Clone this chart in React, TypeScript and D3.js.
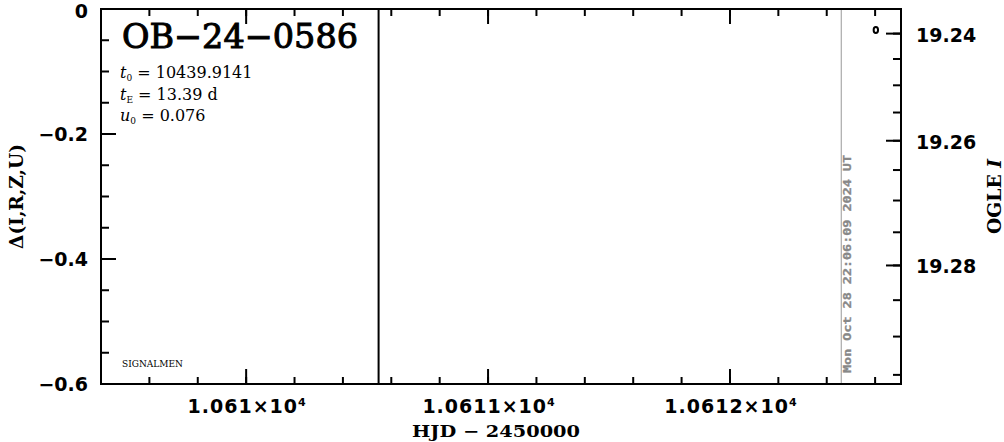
import React from "react";
import * as d3 from "d3";

// ---- data ----
const eventName = "OB-24-0586";
const paramNames = ["t", "t", "u"];
const paramSubs = ["0", "E", "0"];
const paramValues = ["10439.9141", "13.39 d", "0.076"];

const xMajorTicks = [10610, 10611, 10612];
const xTickMantissa = ["1.061", "1.0611", "1.0612"];
const deltaMajorTicks = [0, -0.2, -0.4, -0.6];
const deltaTickLabels = ["0", "\u22120.2", "\u22120.4", "\u22120.6"];
const magMajorTicks = [19.24, 19.26, 19.28];
const magTickLabels = ["19.24", "19.26", "19.28"];
const magMinorTicks = [19.24, 19.245, 19.25, 19.255, 19.26, 19.265, 19.27, 19.275, 19.28, 19.285, 19.29, 19.295];

const obsHJD = [10612.603];
const obsMag = [19.2393];

const markerHJD = [10610.5475];
const nowHJD = [10612.46];
const nowLabel = "Mon Oct 28 22:06:09 2024 UT";

const baseMag = 19.235;
const blendFs = 0.129;
const xDomain = [10609.4, 10612.707];
const deltaDomain = [0, -0.6];

const W = 1004, H = 442;
const L = 101, R = 901, T = 9, B = 384;

export default function App() {
  const x = d3.scaleLinear().domain(xDomain).range([L, R]);
  const y = d3.scaleLinear().domain(deltaDomain).range([T, B]);
  const magToDelta = (m: number) => {
    const f = Math.pow(10, -0.4 * (m - baseMag));
    return 2.5 * Math.log10((f - (1 - blendFs)) / blendFs);
  };
  const ym = (m: number) => y(magToDelta(m));

  const xMinor = d3.range(10609.6, 10612.75, 0.2).map((v) => Math.round(v * 10) / 10);
  const yMinor = d3.range(0, -0.61, -0.05).map((v) => Math.round(v * 100) / 100);

  const sw = 2;
  const num = "'DejaVu Sans', sans-serif";
  const serif = "'DejaVu Serif', serif";

  return (
    <svg width={W} height={H} style={{ position: "absolute", left: 0, top: 0, background: "#fff" }}>
      {/* marker lines */}
      {markerHJD.map((d, i) => (
        <line key={"m" + i} x1={x(d)} x2={x(d)} y1={T} y2={B} stroke="#000" strokeWidth={2} />
      ))}
      {nowHJD.map((d, i) => (
        <g key={"n" + i}>
          <line x1={x(d)} x2={x(d)} y1={T} y2={B} stroke="#999" strokeWidth={1} />
          <text
            transform={`translate(${x(d) + 10},373) rotate(-90)`}
            fontFamily="'DejaVu Sans Mono', monospace"
            fontWeight="bold"
            fontSize={11}
            fill="#888"
            stroke="#888"
            strokeWidth={0.3}
            textLength={218}
            lengthAdjust="spacingAndGlyphs"
          >
            {nowLabel}
          </text>
        </g>
      ))}

      {/* frame */}
      <rect x={L} y={T} width={R - L} height={B - T} fill="none" stroke="#000" strokeWidth={sw} />

      {/* x ticks bottom & top */}
      {xMinor.map((v, i) => (
        <g key={"xm" + i}>
          <line x1={x(v)} x2={x(v)} y1={B} y2={B - 7} stroke="#000" strokeWidth={sw} />
          <line x1={x(v)} x2={x(v)} y1={T} y2={T + 7} stroke="#000" strokeWidth={sw} />
        </g>
      ))}
      {xMajorTicks.map((v, i) => (
        <g key={"xM" + i}>
          <line x1={x(v)} x2={x(v)} y1={B} y2={B - 15} stroke="#000" strokeWidth={sw} />
          <line x1={x(v)} x2={x(v)} y1={T} y2={T + 15} stroke="#000" strokeWidth={sw} />
          <text x={x(v) + 1} y={413} textAnchor="middle" fontFamily={num} fontWeight="bold" fontSize={19} letterSpacing={1}>
            {xTickMantissa[i]}
            {"\u00d710"}
            <tspan dy={-7} fontSize={11}>4</tspan>
          </text>
        </g>
      ))}

      {/* left axis */}
      {yMinor.map((v, i) => (
        <line key={"ym" + i} x1={L} x2={L + 8} y1={y(v)} y2={y(v)} stroke="#000" strokeWidth={sw} />
      ))}
      {deltaMajorTicks.map((v, i) => (
        <g key={"yM" + i}>
          <line x1={L} x2={L + 15} y1={y(v)} y2={y(v)} stroke="#000" strokeWidth={sw} />
          <text x={88} y={Math.max(y(v) + 7, 18)} textAnchor="end" fontFamily={num} fontWeight="bold" fontSize={19}>
            {deltaTickLabels[i]}
          </text>
        </g>
      ))}

      {/* right axis */}
      {magMinorTicks.map((v, i) => (
        <line key={"rm" + i} x1={R} x2={R - 8} y1={ym(v)} y2={ym(v)} stroke="#000" strokeWidth={sw} />
      ))}
      {magMajorTicks.map((v, i) => (
        <g key={"rM" + i}>
          <line x1={R} x2={R - 15} y1={ym(v)} y2={ym(v)} stroke="#000" strokeWidth={sw} />
          <text x={916} y={ym(v) + 8} fontFamily={num} fontWeight="bold" fontSize={19}>
            {magTickLabels[i]}
          </text>
        </g>
      ))}

      {/* data */}
      {obsHJD.map((d, i) => (
        <ellipse key={"p" + i} cx={x(d)} cy={ym(obsMag[i])} rx={2.2} ry={3} fill="#fff" stroke="#000" strokeWidth={2} />
      ))}

      {/* axis labels */}
      <text x={496} y={437} textAnchor="middle" fontFamily={serif} fontWeight="bold" fontSize={17} textLength={168} lengthAdjust="spacingAndGlyphs">
        HJD {"\u2212"} 2450000
      </text>
      <text transform={`translate(23,${(T + B) / 2}) rotate(-90)`} textAnchor="middle" fontFamily={serif} fontWeight="bold" fontSize={19} textLength={105} lengthAdjust="spacingAndGlyphs">
        {"\u0394(I,R,Z,U)"}
      </text>
      <text transform={`translate(1001,${(T + B) / 2}) rotate(-90)`} textAnchor="middle" fontFamily={serif} fontWeight="bold" fontSize={19} textLength={75} lengthAdjust="spacingAndGlyphs">
        OGLE <tspan fontStyle="italic">I</tspan>
      </text>

      {/* title and params */}
      <text x={122} y={48} fontFamily={serif} fontSize={33} stroke="#000" strokeWidth={1} textLength={236} lengthAdjust="spacingAndGlyphs">
        {eventName.replace(/-/g, "\u2212")}
      </text>
      {paramNames.map((p, i) => (
        <text key={"pa" + i} x={120} y={78 + i * 21.5} fontFamily={serif} fontSize={16}>
          <tspan fontStyle="italic">{p}</tspan>
          <tspan fontSize={9} dy={3}>{paramSubs[i]}</tspan>
          <tspan dy={-3}>{" = " + paramValues[i]}</tspan>
        </text>
      ))}
      <text x={122} y={367} fontFamily={serif} fontSize={9} textLength={61} lengthAdjust="spacingAndGlyphs">
        SIGNALMEN
      </text>
    </svg>
  );
}
